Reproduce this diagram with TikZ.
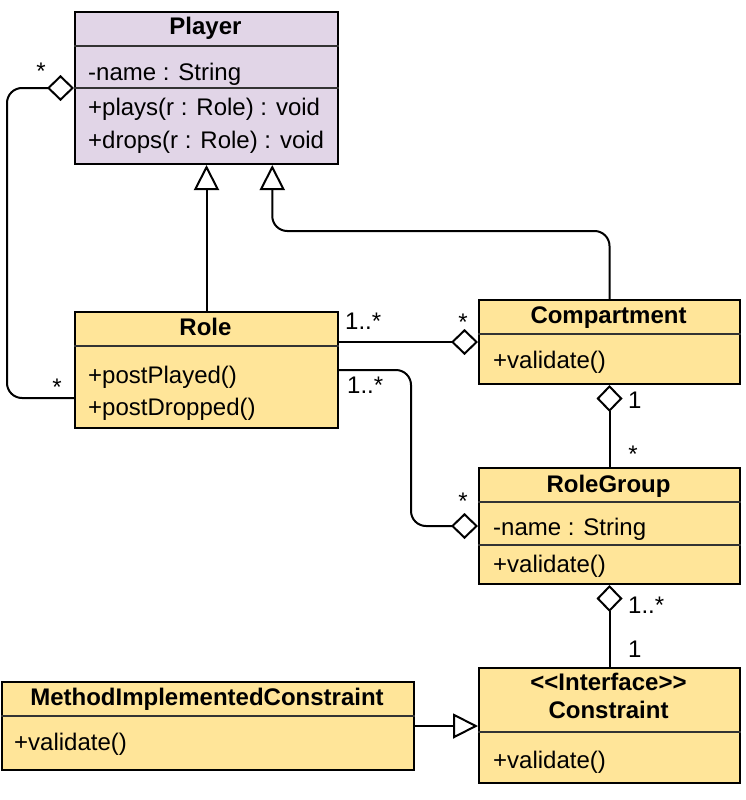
\documentclass[tikz,border=0pt]{standalone}
\usepackage{fontspec}
\setmainfont{Liberation Sans}
\usetikzlibrary{arrows.meta}
\definecolor{playerfill}{HTML}{E1D5E7}
\definecolor{classfill}{HTML}{FFE599}

\begin{document}
\begin{tikzpicture}[x=1pt, y=-1pt,
  font=\fontsize{24}{28}\selectfont,
  classbox/.style={draw, line width=2pt, fill=classfill, anchor=north west,
    inner sep=0pt, minimum width=263pt},
  divider/.style={line width=1.5pt, black!80},
  title/.style={anchor=base, inner sep=0pt, font=\fontsize{24}{28}\selectfont\bfseries},
  member/.style={anchor=base west, inner sep=0pt},
  mult/.style={anchor=base west, inner sep=0pt},
  agg/.style={line width=2pt, -{Diamond[open, length=27pt, width=26pt]}},
  gen/.style={line width=2pt, -{Triangle[open, length=25pt, width=25pt]}}]
  \useasboundingbox (0,0) rectangle (746,800);

  % classes
  \node[classbox, fill=playerfill, minimum height=152pt] (player) at (74,11) {};
  \draw[divider] ([yshift=-35pt]player.north west) -- ([yshift=-35pt]player.north east);
  \draw[divider] ([yshift=-77pt]player.north west) -- ([yshift=-77pt]player.north east);
  \node[title] (playerTitle) at (205.5,35) {Player};
  \node[member] (playerName) at (88,81) {-name : String};
  \node[member] (playerPlays) at (88,115) {+plays(r : Role) : void};
  \node[member] (playerDrops) at (88,148) {+drops(r : Role) : void};

  \node[classbox, minimum height=116pt] (role) at (74,311) {};
  \draw[divider] ([yshift=-35pt]role.north west) -- ([yshift=-35pt]role.north east);
  \node[title] (roleTitle) at (205.5,335) {Role};
  \node[member] (rolePlayed) at (88,383) {+postPlayed()};
  \node[member] (roleDropped) at (88,415) {+postDropped()};

  \node[classbox, minimum width=261pt, minimum height=84pt] (comp) at (478,299) {};
  \draw[divider] ([yshift=-35pt]comp.north west) -- ([yshift=-35pt]comp.north east);
  \node[title] (compTitle) at (608.5,323) {Compartment};
  \node[member] (compValidate) at (493,368) {+validate()};

  \node[classbox, minimum width=261pt, minimum height=116pt] (group) at (478,467) {};
  \draw[divider] ([yshift=-35pt]group.north west) -- ([yshift=-35pt]group.north east);
  \draw[divider] ([yshift=-78pt]group.north west) -- ([yshift=-78pt]group.north east);
  \node[title] (groupTitle) at (608.5,492) {RoleGroup};
  \node[member] (groupName) at (493,535) {-name : String};
  \node[member] (groupValidate) at (493,572) {+validate()};

  \node[classbox, minimum width=261pt, minimum height=115pt] (constraint) at (478,667) {};
  \draw[divider] ([yshift=-65pt]constraint.north west) -- ([yshift=-65pt]constraint.north east);
  \node[title] (constraintStereo) at (608.5,690) {<\kern0pt<Interface>\kern0pt>};
  \node[title] (constraintTitle) at (608.5,718) {Constraint};
  \node[member] (constraintValidate) at (493,768) {+validate()};

  \node[classbox, minimum width=412pt, minimum height=88pt] (mic) at (1,681) {};
  \draw[divider] ([yshift=-35pt]mic.north west) -- ([yshift=-35pt]mic.north east);
  \node[title] (micTitle) at (207,705) {MethodImplementedConstraint};
  \node[member] (micValidate) at (14,750) {+validate()};

  % relations
  \draw[gen] (role.north) -- (player.south);
  \draw[gen, rounded corners=15pt] (comp.north) -- ++(0,-68) -| ([xshift=65.75pt]player.south);
  \draw[agg, rounded corners=15pt] ([yshift=-87pt]role.north west) -- ++(-67,0)
    |- ([yshift=-77pt]player.north west);
  \draw[agg] (role.east |- comp.west) -- (comp.west);
  \draw[agg, rounded corners=15pt] (role.east) -- ++(72,0) |- (group.west);
  \draw[agg] (group.north) -- (comp.south);
  \draw[agg] (constraint.north) -- (group.south);
  \draw[gen] (mic.east) -- (mic.east -| constraint.west);

  % multiplicities
  \node[mult, anchor=base] (mPlayer) at (41,79) {*};
  \node[mult, anchor=base] (mRoleLeft) at (57,395) {*};
  \node[mult] (mRoleComp) at (345,329) {1..*};
  \node[mult, anchor=base] (mComp) at (463,330) {*};
  \node[mult] (mRoleGroup) at (347,393) {1..*};
  \node[mult, anchor=base] (mGroup) at (463,509) {*};
  \node[mult] (mCompBottom) at (628,408) {1};
  \node[mult, anchor=base] (mGroupTop) at (633,462) {*};
  \node[mult] (mGroupBottom) at (628,613) {1..*};
  \node[mult] (mConstraint) at (628,657) {1};
\end{tikzpicture}
\end{document}
